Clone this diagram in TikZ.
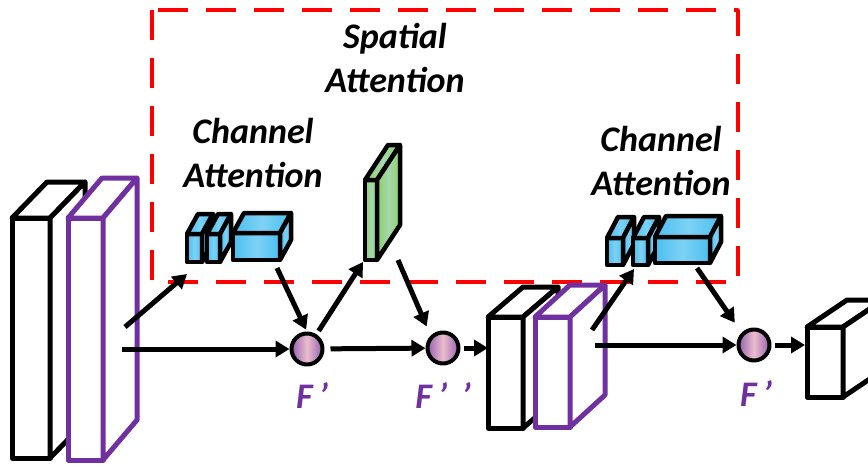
\documentclass[tikz,border=0pt]{standalone}
\usepackage{fontspec}
\setmainfont{Carlito}
\usetikzlibrary{arrows.meta}

\definecolor{boxpurple}{RGB}{112,48,160}
\definecolor{chancyan}{RGB}{75,190,240}
\definecolor{chanlight}{RGB}{125,210,245}
\definecolor{spatgreen}{RGB}{140,210,95}
\definecolor{spatlight}{RGB}{165,215,175}
\definecolor{fusepurple}{RGB}{150,95,175}
\definecolor{fusepink}{RGB}{235,190,205}

% cuboid: style, x, y (front top-left), width, height, depth dx, dy
\newcommand{\cuboid}[7]{%
  \draw[#1] (#2,#3) rectangle ++(#4,#5);
  \draw[#1] (#2,#3) -- ++(#6,#7) -- ++(#4,0) -- (#2+#4,#3) -- cycle;
  \draw[#1] (#2+#4,#3) -- ++(#6,#7) -- ++(0,#5) -- (#2+#4,#3+#5) -- cycle;
}

\begin{document}
\begin{tikzpicture}
[x=1pt,y=-1pt,line join=round,%
  every node/.style={font=\fontsize{36}{44}\selectfont\bfseries\itshape},%
  feat/.style={draw=black,line width=5pt,fill=white},%
  featp/.style={draw=boxpurple,line width=5pt,fill=white},%
  chanbox/.style={draw=black,line width=4.5pt,left color=chancyan,right color=chancyan,middle color=chanlight},%
  spatbox/.style={draw=black,line width=4.5pt,left color=spatgreen,right color=spatgreen,middle color=spatlight},%
  frame/.style={draw=red,line width=3.5pt,dash pattern=on 30pt off 18pt},%
  fuse/.style={circle,draw,line width=4pt,minimum size=31pt,inner sep=0pt,%
    left color=fusepurple,right color=fusepurple,middle color=fusepink},%
  flabel/.style={text=boxpurple,anchor=base},%
  flow/.style={line width=5pt,-{Triangle[length=14pt,width=16pt]}}]
\useasboundingbox (0,0) rectangle (868,466);
\clip (0,0) rectangle (868,466);

% attention frame
\draw[frame] (152,10) rectangle (738,282);

% input features
\cuboid{feat}{12}{218}{38}{240}{35}{-36}
\cuboid{featp}{68}{218}{35}{242}{34}{-40}

% channel attention (first)
\cuboid{chanbox}{187}{234}{15}{28}{11}{-20}
\cuboid{chanbox}{207}{234}{13}{28}{11}{-20}
\cuboid{chanbox}{233}{233}{47}{27}{11}{-20}

% spatial attention
\cuboid{spatbox}{365}{180}{12}{80}{23}{-35}

% middle features
\cuboid{feat}{488}{317}{35}{111}{35}{-30}
\cuboid{featp}{535}{317}{35}{110}{35}{-32}

% channel attention (second)
\cuboid{chanbox}{607}{238}{16}{27}{11}{-21}
\cuboid{chanbox}{633}{238}{15}{27}{11}{-21}
\cuboid{chanbox}{655}{237}{55}{26}{11}{-21}

% output feature
\cuboid{feat}{807}{327}{36}{70}{40}{-27}

% labels
\node (ca1) at (253,153) [align=center] {Channel\\Attention};
\node (sa) at (395,58) [align=center] {Spatial\\Attention};
\node (ca2) at (661,161) [align=center] {Channel\\Attention};

% fusion points
\node[fuse] (f1) at (307,349) {};
\node[fuse] (f2) at (443,348) {};
\node[fuse] (f3) at (754,345) {};
\node[flabel] (l1) at (312,408) {F\,’};
\node[flabel] (l2) at (443,408) {F\,’\hspace{14pt}’};
\node[flabel] (l3) at (756,406) {F\,’};

% arrow ends
\coordinate (in-up) at (125,327);
\coordinate (in-mid) at (122,349);
\coordinate (ca1-in) at (187,274);
\coordinate (ca1-out) at (277,268);
\coordinate (sa-in) at (363,262);
\coordinate (sa-out) at (398,260);
\coordinate (mid-in) at (488,348);
\coordinate (mid-up) at (592,330);
\coordinate (mid-out) at (595,345);
\coordinate (ca2-in) at (634,269);
\coordinate (ca2-out) at (697,268);
\coordinate (out-in) at (805,345);

\draw[flow] (in-up) -- (ca1-in);
\draw[flow] (in-mid) -- (f1);
\draw[flow,shorten >=2pt] (ca1-out) -- (f1.north);
\draw[flow,shorten <=4pt] (f1) -- (sa-in);
\draw[flow,shorten <=6pt] (f1) -- (f2);
\draw[flow,shorten >=10pt] (sa-out) -- (f2.135);
\draw[flow,shorten <=3pt] (f2) -- (mid-in);
\draw[flow] (mid-up) -- (ca2-in);
\draw[flow] (mid-out) -- (f3);
\draw[flow,shorten >=12pt] (ca2-out) -- (f3.135);
\draw[flow,shorten <=3pt] (f3) -- (out-in);
\end{tikzpicture}
\end{document}
